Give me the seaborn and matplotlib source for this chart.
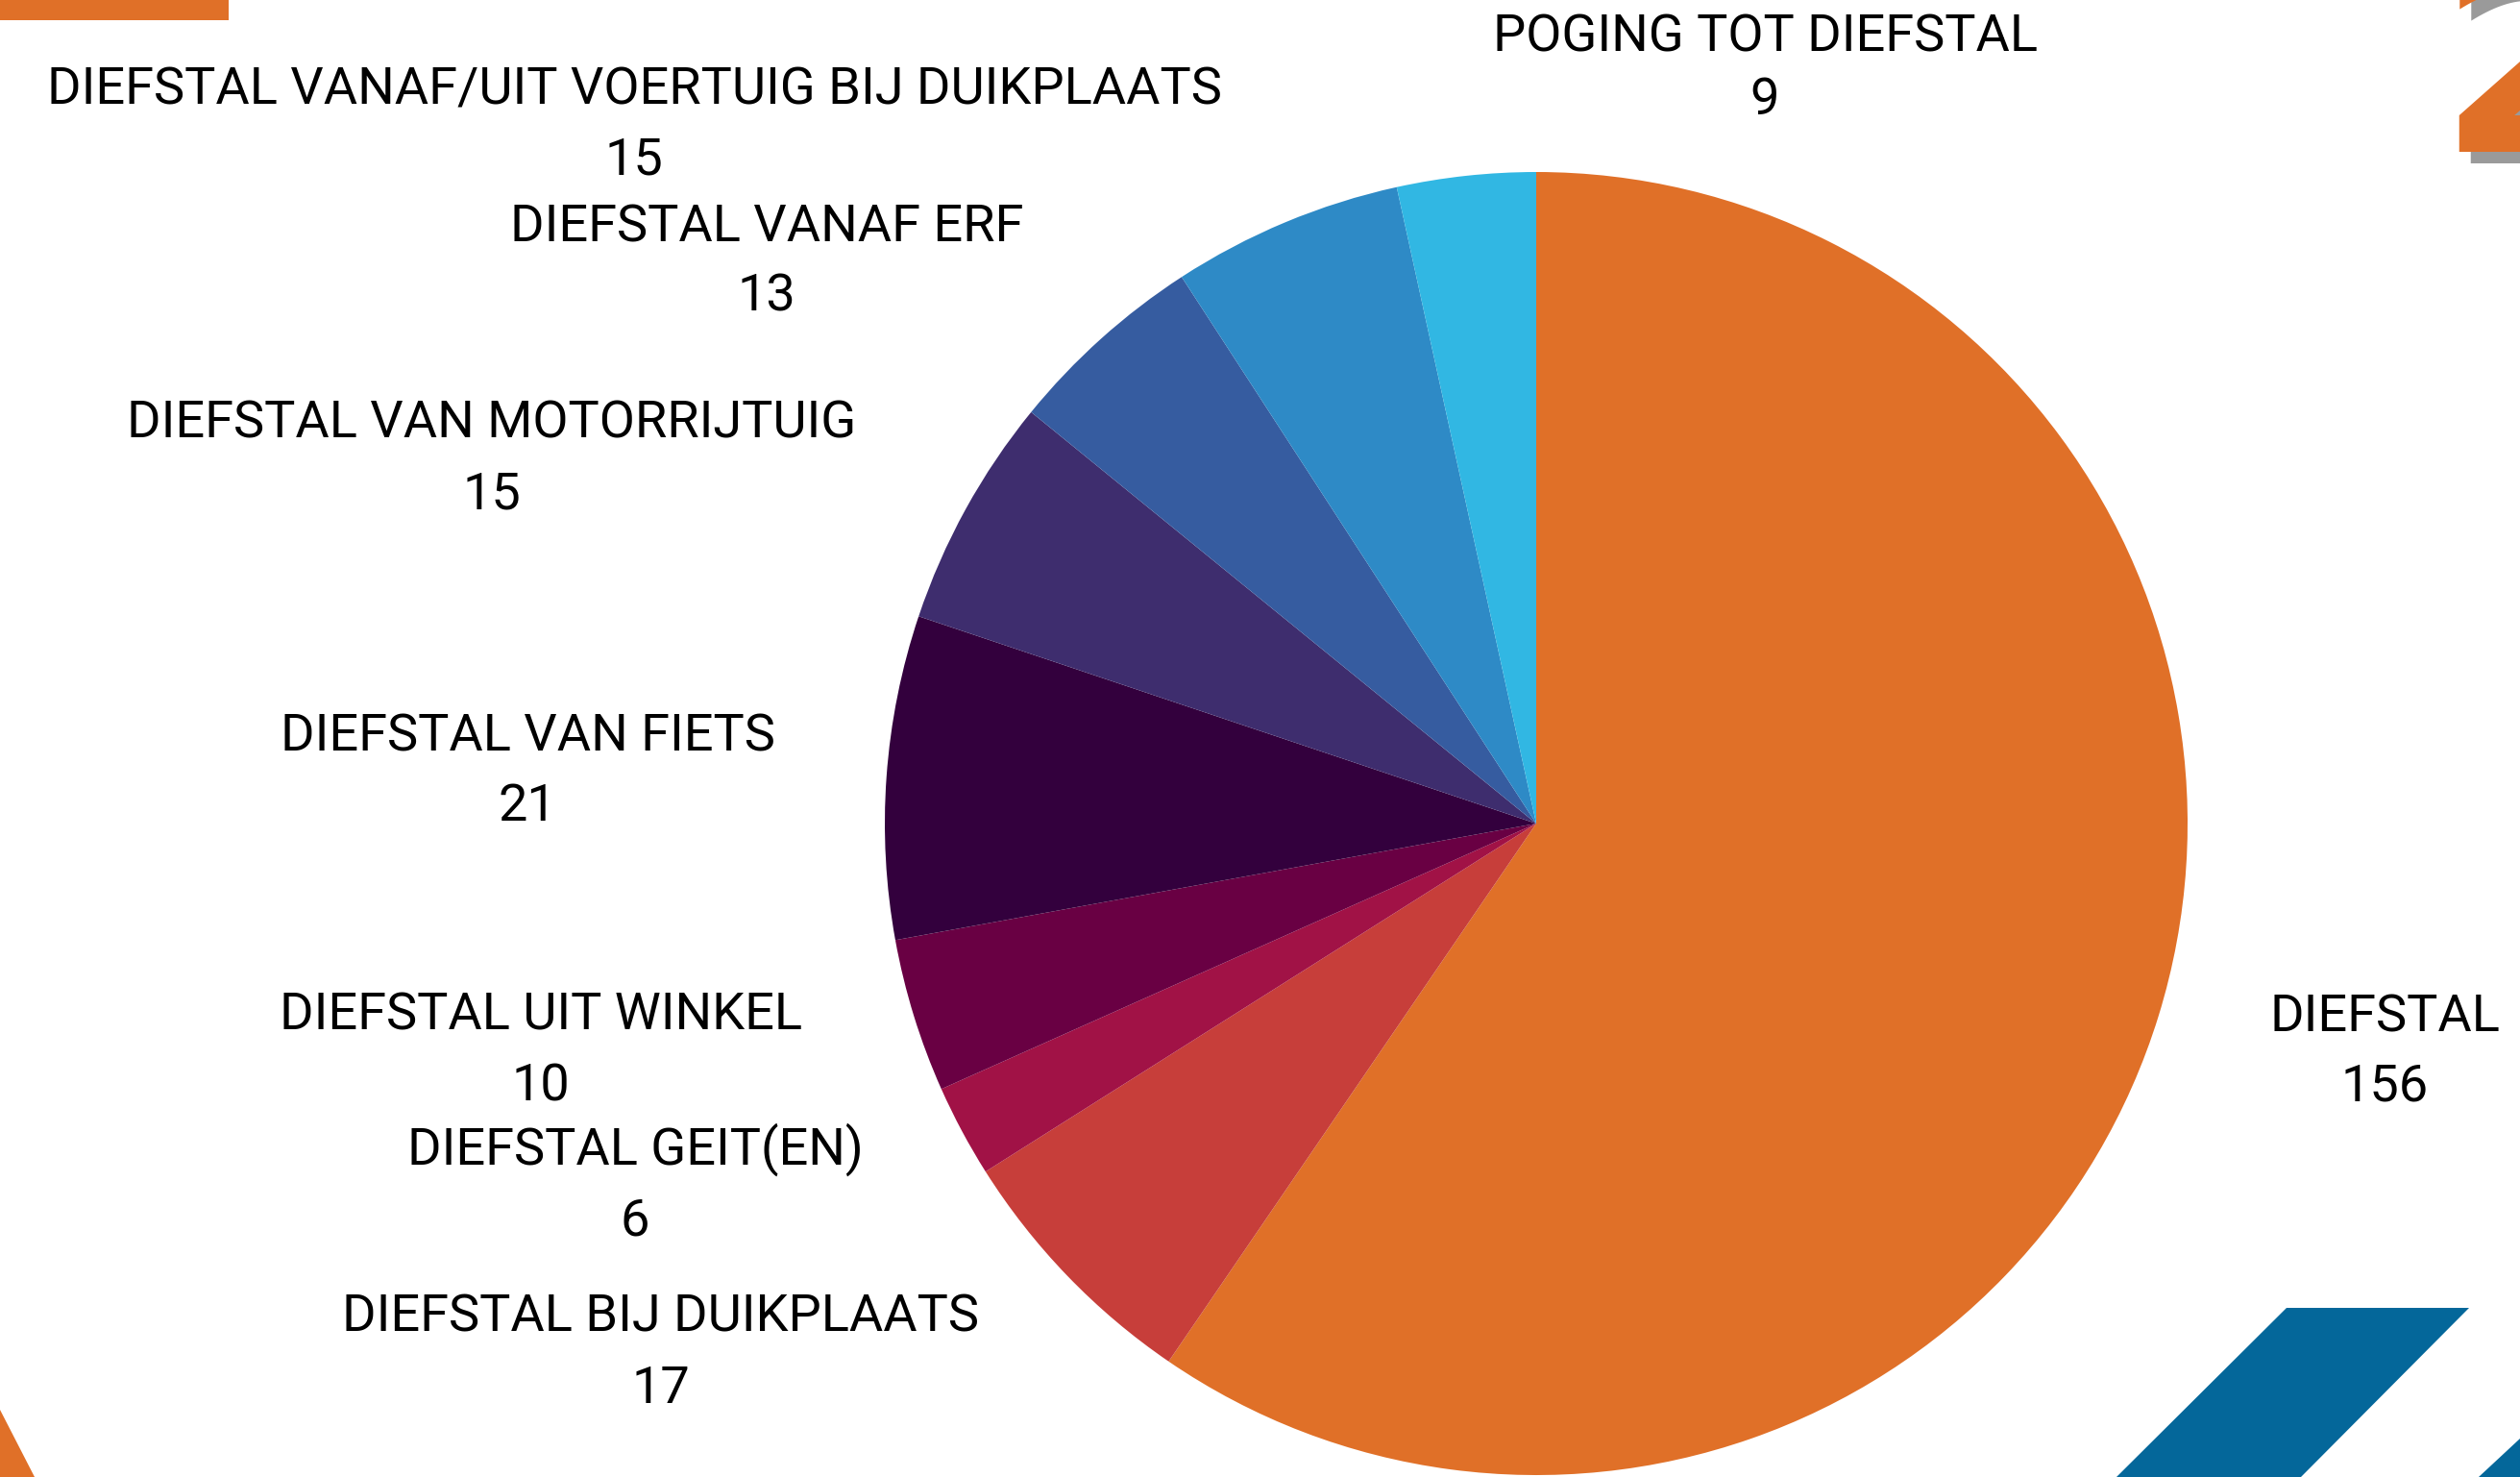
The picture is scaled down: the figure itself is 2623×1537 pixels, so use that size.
import matplotlib
matplotlib.use("Agg")
import matplotlib.pyplot as plt
from matplotlib.patches import Polygon, Rectangle
import seaborn as sns

# ---- data ----
categories = [
    "DIEFSTAL",
    "DIEFSTAL BIJ DUIKPLAATS",
    "DIEFSTAL GEIT(EN)",
    "DIEFSTAL UIT WINKEL",
    "DIEFSTAL VAN FIETS",
    "DIEFSTAL VAN MOTORRIJTUIG",
    "DIEFSTAL VANAF ERF",
    "DIEFSTAL VANAF/UIT VOERTUIG BIJ DUIKPLAATS",
    "POGING TOT DIEFSTAL",
]
values = [156, 17, 6, 10, 21, 15, 13, 15, 9]
colors = ["#E07028", "#C73E3A", "#A11246", "#690043", "#33003D",
          "#3E2D6E", "#365CA0", "#2E8AC6", "#31B7E3"]

# label layout (pixel coords of full image: x center, label baseline, value baseline)
label_pos = [
    (2482, 1073, 1145),
    (688, 1386, 1460),
    (661, 1212, 1286),
    (563, 1072, 1145),
    (549, 781, 854),
    (512, 456, 530),
    (798, 251, 324),
    (660, 108, 182),
    (1837, 53, 119),
]

W, H = 2623, 1537
sns.set_theme(style="white")
plt.rcParams["font.family"] = ["Roboto", "DejaVu Sans"]

fig = plt.figure(figsize=(W / 100, H / 100), dpi=100)
fig.patch.set_facecolor("white")


def fx(x):
    return x / W


def fy(y):
    return 1 - y / H


# pie axes
cx, cy, r = 1599, 857, 678
ax = fig.add_axes([fx(cx - r), fy(cy + r), 2 * r / W, 2 * r / H])
ax.pie(values, colors=colors, startangle=90, counterclock=False, radius=1,
       wedgeprops=dict(linewidth=0, antialiased=True))
ax.set_xlim(-1, 1)
ax.set_ylim(-1, 1)
ax.set_axis_off()

# labels
fs = 39
for cat, val, (x, yl, yv) in zip(categories, values, label_pos):
    fig.text(fx(x), fy(yl), cat, ha="center", va="baseline", fontsize=fs, color="black")
    fig.text(fx(x), fy(yv), str(val), ha="center", va="baseline", fontsize=fs, color="black")

# decorations
orange = "#E07028"
blue = "#04679A"
fig.patches.append(Rectangle((0, fy(21)), fx(238), 21 / H, transform=fig.transFigure,
                             facecolor=orange, edgecolor="none"))
fig.patches.append(Polygon([(0, fy(1467)), (fx(36), 0), (0, 0)], closed=True,
                           transform=fig.transFigure, facecolor=orange, edgecolor="none"))
fig.patches.append(Polygon([(fx(2380), fy(1361)), (fx(2570), fy(1361)), (fx(2395), fy(1537)),
                            (fx(2203), fy(1537))], closed=True, transform=fig.transFigure,
                           facecolor=blue, edgecolor="none"))
fig.patches.append(Polygon([(fx(2623), fy(1497)), (fx(2623), 0), (fx(2580), 0)], closed=True,
                           transform=fig.transFigure, facecolor=blue, edgecolor="none"))

# big "2" with shadow at top-right
fig.text(fx(2549), fy(170), "2", fontsize=198, fontweight="bold", color="#9A9A9A",
         ha="left", va="baseline", family=["DejaVu Sans"])
fig.text(fx(2537), fy(158), "2", fontsize=198, fontweight="bold", color=orange,
         ha="left", va="baseline", family=["DejaVu Sans"])

fig.savefig("out.png", dpi=100, facecolor="white")
